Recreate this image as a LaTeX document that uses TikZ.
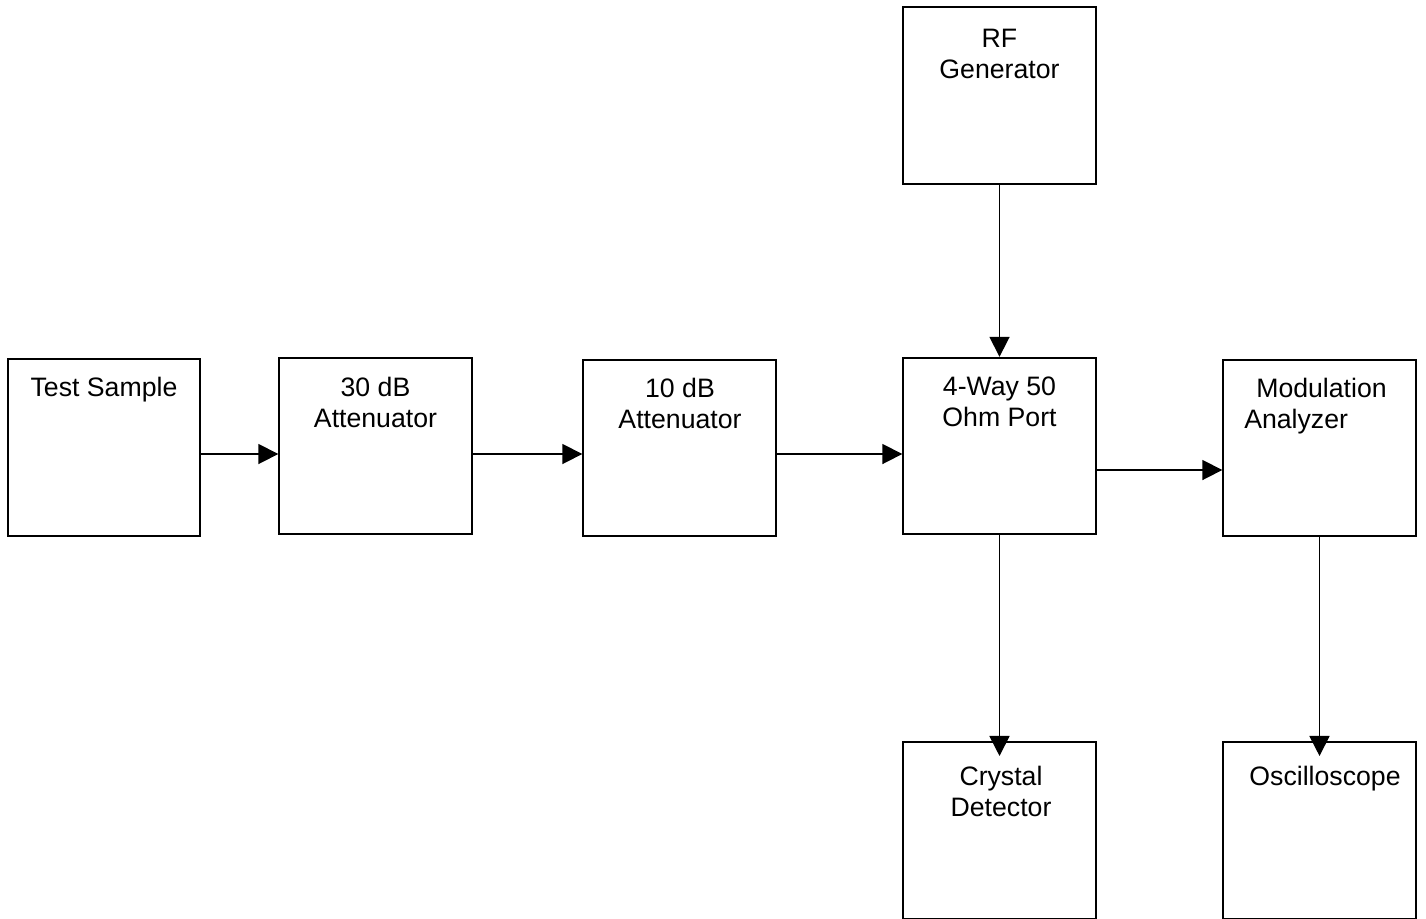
\documentclass[tikz,border=0pt]{standalone}
\usepackage{fontspec}
\setmainfont{Liberation Sans}
\usetikzlibrary{arrows.meta}
\begin{document}
\begin{tikzpicture}[x=0.75pt,y=-0.75pt,
  box/.style={draw=black,line width=1.3pt,minimum width=144.5pt,minimum height=132.5pt,inner sep=0pt,fill=white},
  lbl/.style={inner sep=0pt,align=center,anchor=north,font=\fontsize{20pt}{23.25pt}\selectfont},
  arr/.style={draw=black,line width=1.3pt,-{Triangle[length=15pt,width=15pt]}}]
\useasboundingbox (0,0) rectangle (1426,918);
\node[box] (ts)  at (104,447.5) {};
\node[box] (a30) at (375.5,446) {};
\node[box] (a10) at (679.5,448) {};
\node[box] (way) at (999.5,446) {};
\node[box] (mod) at (1319.5,448) {};
\node[box] (rf)  at (999.5,95.5) {};
\node[box] (cry) at (999.5,830.5) {};
\node[box] (osc) at (1319.5,830.5) {};
\node[lbl] (tst) at (104,377) {Test Sample};
\node[lbl] (a30t) at (375.5,377) {30 dB\\Attenuator};
\node[lbl] (a10t) at (680,378) {10 dB\\Attenuator};
\node[lbl] (wayt) at (999.5,377) {4-Way 50\\Ohm Port};
\node[lbl,anchor=north west,align=left] (modt) at (1244,378) {\hspace*{9pt}Modulation\\Analyzer};
\node[lbl] (rft) at (999.5,29) {RF\\Generator};
\node[lbl] (cryt) at (1001,766) {Crystal\\Detector};
\node[lbl] (osct) at (1325,766) {Oscilloscope};
\coordinate (r1) at (0,454);
\coordinate (r2) at (0,470);
\draw[arr] (ts.east |- r1) -- (a30.west |- r1);
\draw[arr] (a30.east |- r1) -- (a10.west |- r1);
\draw[arr] (a10.east |- r1) -- (way.west |- r1);
\draw[arr] (way.east |- r2) -- (mod.west |- r2);
\draw[arr] (rf.south) -- (way.north);
\draw[arr] (way.south) -- ([yshift=-11pt]cry.north);
\draw[arr] (mod.south) -- ([yshift=-11pt]osc.north);
\end{tikzpicture}
\end{document}
